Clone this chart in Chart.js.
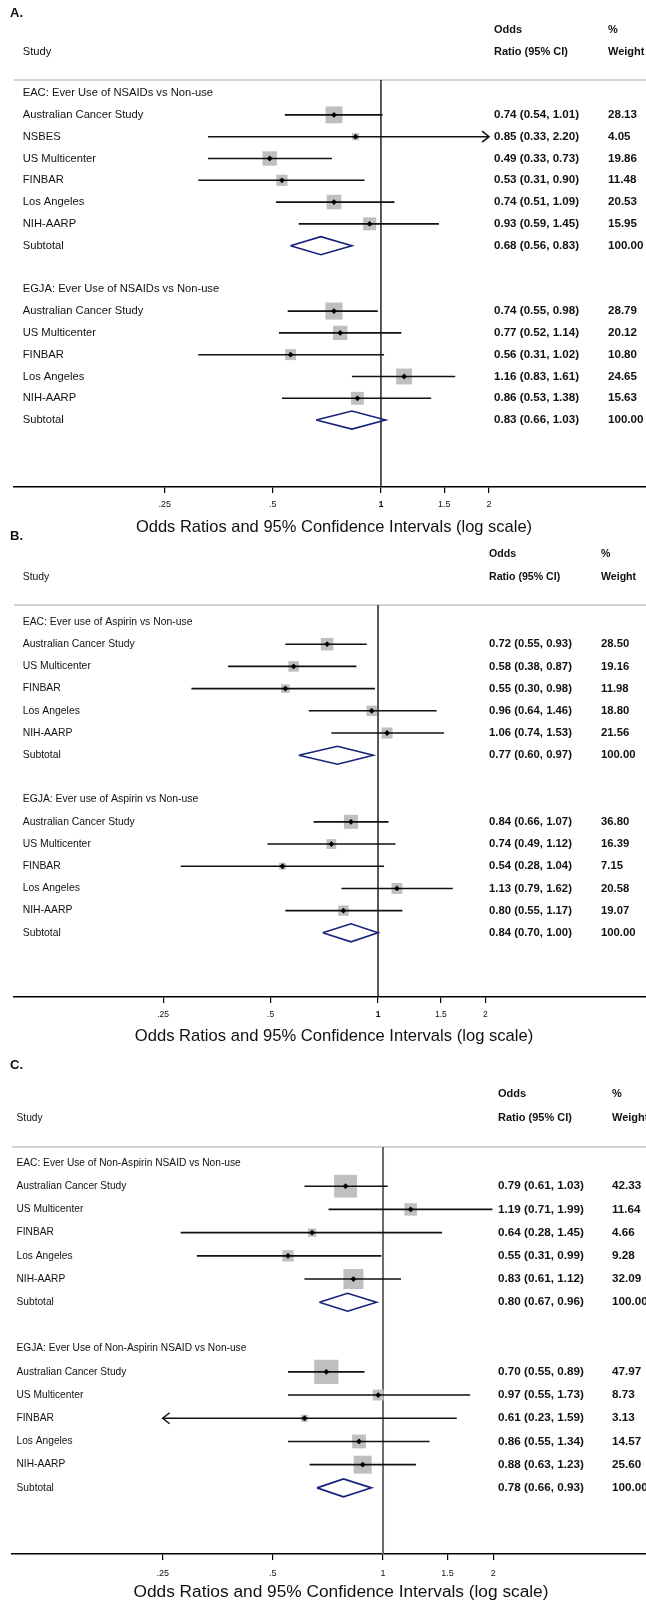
<!DOCTYPE html>
<html>
<head>
<meta charset="utf-8">
<script src="https://cdn.jsdelivr.net/npm/chart.js@4.4.1/dist/chart.umd.min.js"></script>
<style>
  body { margin: 0; background: #fff; }
  #page { position: relative; width: 646px; height: 1604px; overflow: hidden; background: #fff; }
  canvas { position: absolute; left: 0; }
</style>
</head>
<body>
<div id="page">
  <canvas id="panelA" width="646" height="545"></canvas>
  <canvas id="panelB" width="646" height="530"></canvas>
  <canvas id="panelC" width="646" height="559"></canvas>
</div>
<script>
/* Data: one row per line of the forest plot, headers / blank rows have null values */
const tickValues = [0.25, 0.5, 1, 1.5, 2];
const tickLabels = ['.25', '.5', '1', '1.5', '2'];
const axisTitle = 'Odds Ratios and 95% Confidence Intervals (log scale)';

const aLabels = ['EAC: Ever Use of NSAIDs vs Non-use', 'Australian Cancer Study', 'NSBES', 'US Multicenter', 'FINBAR', 'Los Angeles', 'NIH-AARP', 'Subtotal', '',
  'EGJA: Ever Use of NSAIDs vs Non-use', 'Australian Cancer Study', 'US Multicenter', 'FINBAR', 'Los Angeles', 'NIH-AARP', 'Subtotal'];
const aOR     = [null, 0.74, 0.85, 0.49, 0.53, 0.74, 0.93, 0.68, null, null, 0.74, 0.77, 0.56, 1.16, 0.86, 0.83];
const aLow    = [null, 0.54, 0.33, 0.33, 0.31, 0.51, 0.59, 0.56, null, null, 0.55, 0.52, 0.31, 0.83, 0.53, 0.66];
const aHigh   = [null, 1.01, 2.20, 0.73, 0.90, 1.09, 1.45, 0.83, null, null, 0.98, 1.14, 1.02, 1.61, 1.38, 1.03];
const aWeight = [null, 28.13, 4.05, 19.86, 11.48, 20.53, 15.95, 100.00, null, null, 28.79, 20.12, 10.80, 24.65, 15.63, 100.00];

const bLabels = ['EAC: Ever use of Aspirin vs Non-use', 'Australian Cancer Study', 'US Multicenter', 'FINBAR', 'Los Angeles', 'NIH-AARP', 'Subtotal', '',
  'EGJA: Ever use of Aspirin vs Non-use', 'Australian Cancer Study', 'US Multicenter', 'FINBAR', 'Los Angeles', 'NIH-AARP', 'Subtotal'];
const bOR     = [null, 0.72, 0.58, 0.55, 0.96, 1.06, 0.77, null, null, 0.84, 0.74, 0.54, 1.13, 0.80, 0.84];
const bLow    = [null, 0.55, 0.38, 0.30, 0.64, 0.74, 0.60, null, null, 0.66, 0.49, 0.28, 0.79, 0.55, 0.70];
const bHigh   = [null, 0.93, 0.87, 0.98, 1.46, 1.53, 0.97, null, null, 1.07, 1.12, 1.04, 1.62, 1.17, 1.00];
const bWeight = [null, 28.50, 19.16, 11.98, 18.80, 21.56, 100.00, null, null, 36.80, 16.39, 7.15, 20.58, 19.07, 100.00];

const cLabels = ['EAC: Ever Use of Non-Aspirin NSAID vs Non-use', 'Australian Cancer Study', 'US Multicenter', 'FINBAR', 'Los Angeles', 'NIH-AARP', 'Subtotal', '',
  'EGJA: Ever Use of Non-Aspirin NSAID vs Non-use', 'Australian Cancer Study', 'US Multicenter', 'FINBAR', 'Los Angeles', 'NIH-AARP', 'Subtotal'];
const cOR     = [null, 0.79, 1.19, 0.64, 0.55, 0.83, 0.80, null, null, 0.70, 0.97, 0.61, 0.86, 0.88, 0.78];
const cLow    = [null, 0.61, 0.71, 0.28, 0.31, 0.61, 0.67, null, null, 0.55, 0.55, 0.23, 0.55, 0.63, 0.66];
const cHigh   = [null, 1.03, 1.99, 1.45, 0.99, 1.12, 0.96, null, null, 0.89, 1.73, 1.59, 1.34, 1.23, 0.93];
const cWeight = [null, 42.33, 11.64, 4.66, 9.28, 32.09, 100.00, null, null, 47.97, 8.73, 3.13, 14.57, 25.60, 100.00];

const FONT = '"Liberation Sans", Arial, sans-serif';

/* Layout of each panel, page pixel coordinates */
const panels = [
  { id: 'panelA', letter: 'A.', top: 0, height: 545,
    labels: aLabels, or: aOR, low: aLow, high: aHigh, weight: aWeight,
    sepY: 80, axisY: 487, left: 14, xMin: 0.0951, xMax: 5.47, yMin: -0.6, yMax: 18.07,
    letterY: 13, oddsY: 30, studyY: 52, titleY: 527, titleX: 334,
    labelX: 22.7, orX: 494, wtX: 608, font: 11.2, valFont: 11.6, headFont: 11,
    tickFont: 9, tickPad: 6.5, boldOne: true, titleFont: 16.5, box: 3.0,
    refColor: '#000', refWidth: 1.3 },
  { id: 'panelB', letter: 'B.', top: 525, height: 530,
    labels: bLabels, or: bOR, low: bLow, high: bHigh, weight: bWeight,
    sepY: 605, axisY: 997, left: 14, xMin: 0.0955, xMax: 5.635, yMin: -0.766, yMax: 16.89,
    letterY: 536, oddsY: 554, studyY: 577, titleY: 1036, titleX: 334,
    labelX: 22.7, orX: 489, wtX: 601, font: 10.4, valFont: 11.3, headFont: 10.6,
    tickFont: 8.5, tickPad: 7, boldOne: true, titleFont: 16.6, box: 2.17,
    refColor: '#000', refWidth: 1.3 },
  { id: 'panelC', letter: 'C.', top: 1045, height: 559,
    labels: cLabels, or: cOR, low: cLow, high: cHigh, weight: cWeight,
    sepY: 1147, axisY: 1554, left: 12, xMin: 0.0969, xMax: 5.23, yMin: -0.69, yMax: 16.85,
    letterY: 1065, oddsY: 1094, studyY: 1118, titleY: 1592, titleX: 341,
    labelX: 16.5, orX: 498, wtX: 612, font: 10.2, valFont: 11.7, headFont: 11,
    tickFont: 9, tickPad: 8, boldOne: false, titleFont: 17.3, box: 3.35,
    refColor: '#6b6b6b', refWidth: 2 }
];

const clipLo = tickValues[0];
const clipHi = tickValues[tickValues.length - 1];
const fmt = v => v.toFixed(2);

function makeChart(p) {
  const canvas = document.getElementById(p.id);
  canvas.style.top = p.top + 'px';
  const sepY = p.sepY - p.top;
  const axisY = p.axisY - p.top;
  const rowPx = (axisY - sepY) / (p.yMax - p.yMin);
  const dh = 9 / rowPx;
  const gap = { x: NaN, y: NaN };

  const isSub = i => p.labels[i] === 'Subtotal';
  const ci = [], boxes = [], marks = [], diamonds = [];
  p.labels.forEach((label, i) => {
    if (p.or[i] === null) return;
    if (isSub(i)) {
      diamonds.push({ x: p.low[i], y: i }, { x: p.or[i], y: i - dh }, { x: p.high[i], y: i },
        { x: p.or[i], y: i + dh }, { x: p.low[i], y: i }, gap);
    } else {
      ci.push({ x: Math.max(p.low[i], clipLo), y: i }, { x: Math.min(p.high[i], clipHi), y: i }, gap);
      boxes.push({ x: p.or[i], y: i, w: p.weight[i] });
      marks.push({ x: p.or[i], y: i });
    }
  });

  const textPlugin = {
    id: 'forestText',
    afterDraw(chart) {
      const ctx = chart.ctx;
      const xs = chart.scales.x, ys = chart.scales.y;
      ctx.save();
      ctx.fillStyle = '#111';
      ctx.textBaseline = 'middle';
      ctx.textAlign = 'left';
      ctx.font = 'bold 13px ' + FONT;
      ctx.fillText(p.letter, 10, p.letterY - p.top);
      ctx.font = p.font + 'px ' + FONT;
      ctx.fillText('Study', p.labelX, p.studyY - p.top);
      ctx.font = 'bold ' + p.headFont + 'px ' + FONT;
      ctx.fillText('Odds', p.orX, p.oddsY - p.top);
      ctx.fillText('Ratio (95% CI)', p.orX, p.studyY - p.top);
      ctx.fillText('%', p.wtX, p.oddsY - p.top);
      ctx.fillText('Weight', p.wtX, p.studyY - p.top);

      p.labels.forEach((label, i) => {
        const py = ys.getPixelForValue(i);
        ctx.font = p.font + 'px ' + FONT;
        ctx.fillText(label, p.labelX, py);
        if (p.or[i] === null) return;
        ctx.font = 'bold ' + p.valFont + 'px ' + FONT;
        ctx.fillText(fmt(p.or[i]) + ' (' + fmt(p.low[i]) + ', ' + fmt(p.high[i]) + ')', p.orX, py);
        ctx.fillText(fmt(p.weight[i]), p.wtX, py);
      });

      // arrows for intervals running past the labelled range
      ctx.strokeStyle = '#111';
      ctx.lineWidth = 1.5;
      p.labels.forEach((label, i) => {
        if (p.or[i] === null || isSub(i)) return;
        const py = ys.getPixelForValue(i);
        if (p.high[i] > clipHi) {
          const tx = xs.getPixelForValue(clipHi);
          ctx.beginPath();
          ctx.moveTo(tx - 7, py - 5.5); ctx.lineTo(tx, py); ctx.lineTo(tx - 7, py + 5.5);
          ctx.stroke();
        }
        if (p.low[i] < clipLo) {
          const tx = xs.getPixelForValue(clipLo);
          ctx.beginPath();
          ctx.moveTo(tx + 7, py - 5.5); ctx.lineTo(tx, py); ctx.lineTo(tx + 7, py + 5.5);
          ctx.stroke();
        }
      });

      ctx.font = p.titleFont + 'px ' + FONT;
      ctx.textAlign = 'center';
      ctx.fillStyle = '#111';
      ctx.fillText(axisTitle, p.titleX, p.titleY - p.top);
      ctx.restore();
    }
  };

  return new Chart(canvas, {
    type: 'scatter',
    data: {
      datasets: [
        { data: marks, pointStyle: 'rectRot', pointRadius: 2.9, backgroundColor: '#000', borderWidth: 0 },
        { data: ci, showLine: true, borderColor: '#111', borderWidth: 1.6, pointRadius: 0, spanGaps: false, clip: false },
        { data: diamonds, showLine: true, borderColor: '#15227a', borderWidth: 1.6, pointRadius: 0,
          spanGaps: false, borderJoinStyle: 'miter', clip: false },
        { data: boxes, pointStyle: 'rect', backgroundColor: '#bfbfbf', borderWidth: 0,
          pointRadius: c => (p.box * Math.sqrt(c.raw.w) + 1) / Math.SQRT2 },
        { data: [{ x: 1, y: p.yMin }, { x: 1, y: p.yMax }], showLine: true, borderColor: p.refColor,
          borderWidth: p.refWidth, pointRadius: 0, clip: false },
        { data: [{ x: p.xMin, y: p.yMin }, { x: p.xMax, y: p.yMin }], showLine: true, borderColor: '#c4c4c4',
          borderWidth: 1.5, pointRadius: 0, clip: false }
      ]
    },
    options: {
      responsive: false,
      animation: false,
      devicePixelRatio: 1,
      events: [],
      layout: { autoPadding: false, padding: { top: sepY, left: p.left, right: 0, bottom: p.height - axisY - 30 } },
      plugins: { legend: { display: false }, tooltip: { enabled: false } },
      scales: {
        x: {
          type: 'logarithmic',
          min: p.xMin,
          max: p.xMax,
          afterBuildTicks: ax => { ax.ticks = tickValues.map(v => ({ value: v })); },
          afterFit: ax => { ax.height = 30; },
          ticks: {
            autoSkip: false,
            maxRotation: 0,
            padding: p.tickPad,
            color: '#111',
            callback: (v, i) => tickLabels[i],
            font: c => ({ family: FONT, size: p.tickFont,
              weight: (p.boldOne && c.tick && c.tick.value === 1) ? 'bold' : 'normal' })
          },
          grid: { drawOnChartArea: false, drawTicks: true, tickLength: 6, color: '#000', lineWidth: 1.2 },
          border: { display: true, color: '#000', width: 1.5 }
        },
        y: { type: 'linear', display: false, reverse: true, min: p.yMin, max: p.yMax }
      }
    },
    plugins: [textPlugin]
  });
}

panels.forEach(makeChart);
</script>
</body>
</html>
